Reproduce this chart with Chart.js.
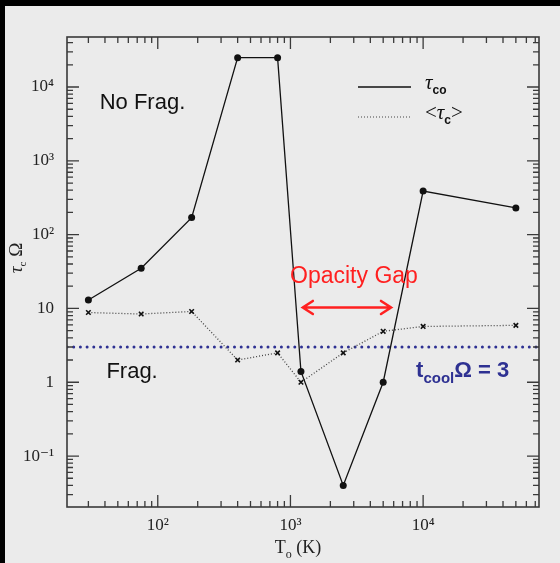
<!DOCTYPE html>
<html lang="en">
<head>
<meta charset="UTF-8">
<title>Cooling time vs temperature</title>
<script src="https://cdn.jsdelivr.net/npm/chart.js"></script>
<style>
  html, body { margin: 0; padding: 0; background: #000; }
  .panel { position: absolute; left: 5px; top: 6px; width: 555px; height: 557px; background: #ebebeb; }
  canvas { display: block; }
</style>
</head>
<body>
<div class="panel"><canvas id="fragChart" width="555" height="557"></canvas></div>
<script>
// run temperatures (K) and measured cooling times
const temps = [30, 75, 180, 400, 800, 1200, 2500, 5000, 10000, 50000];
const tauCo = [13, 35, 170, 25000, 25000, 1.4, 0.04, 1, 390, 230];
const tauMean = [8.8, 8.4, 9.1, 2.0, 2.5, 1.0, 2.5, 4.9, 5.7, 5.9];
const coolLimit = 3;

const xRange = [20.7, 74700];
const yRange = [0.0204, 47600];
const xMajor = [100, 1000, 10000];
const xMajorLabels = ['10²', '10³', '10⁴'];
const yMajor = [0.1, 1, 10, 100, 1000, 10000];
const yMajorLabels = ['10⁻¹', '1', '10', '10²', '10³', '10⁴'];

const SERIF = '"Liberation Serif", "DejaVu Serif", serif';
const SANS = '"Liberation Sans", Arial, sans-serif';
const ink = '#222';

// text with sub/superscript pieces
function drawRuns(ctx, runs, x, y, align) {
  let w = 0;
  runs.forEach(r => { ctx.font = r.font; r.w = ctx.measureText(r.t).width; w += r.w; });
  let cx = align === 'center' ? x - w / 2 : x;
  ctx.textAlign = 'left';
  ctx.textBaseline = 'alphabetic';
  runs.forEach(r => { ctx.font = r.font; ctx.fillText(r.t, cx, y + (r.dy || 0)); cx += r.w; });
}

const overlay = {
  id: 'overlay',
  afterDraw(chart) {
    const { ctx, chartArea: a, scales: { x, y } } = chart;
    ctx.save();

    // frame
    ctx.strokeStyle = '#3a3a3a';
    ctx.lineWidth = 1.6;
    ctx.strokeRect(a.left, a.top, a.right - a.left, a.bottom - a.top);

    // inward ticks on all four sides
    ctx.lineWidth = 1.3;
    ctx.beginPath();
    for (let e = 1; e <= 4; e++) {
      for (let m = 1; m <= 9; m++) {
        const v = m * Math.pow(10, e);
        if (v < x.min || v > x.max) continue;
        const px = x.getPixelForValue(v);
        const len = m === 1 ? 12 : 6;
        ctx.moveTo(px, a.bottom); ctx.lineTo(px, a.bottom - len);
        ctx.moveTo(px, a.top); ctx.lineTo(px, a.top + len);
      }
    }
    for (let e = -2; e <= 4; e++) {
      for (let m = 1; m <= 9; m++) {
        const v = m * Math.pow(10, e);
        if (v < y.min || v > y.max) continue;
        const py = y.getPixelForValue(v);
        const len = m === 1 ? 12 : 6;
        ctx.moveTo(a.left, py); ctx.lineTo(a.left + len, py);
        ctx.moveTo(a.right, py); ctx.lineTo(a.right - len, py);
      }
    }
    ctx.stroke();

    // axis titles
    ctx.fillStyle = ink;
    drawRuns(ctx, [
      { t: 'T', font: '18px ' + SERIF },
      { t: 'o', font: '12px ' + SERIF, dy: 5 },
      { t: ' (K)', font: '18px ' + SERIF }
    ], (a.left + a.right) / 2 - 5, a.bottom + 46, 'center');

    ctx.save();
    ctx.translate(a.left - 50, a.top + 221);
    ctx.rotate(-Math.PI / 2);
    drawRuns(ctx, [
      { t: 'τ', font: 'italic 19px ' + SERIF },
      { t: 'c', font: '11px ' + SERIF, dy: 4 },
      { t: ' Ω', font: '19px ' + SERIF }
    ], 0, 5, 'center');
    ctx.restore();

    // legend
    const lx0 = a.left + 291, lx1 = a.left + 344, lt = a.left + 358;
    const r1 = a.top + 50, r2 = a.top + 80;
    ctx.strokeStyle = '#111';
    ctx.lineWidth = 1.3;
    ctx.beginPath(); ctx.moveTo(lx0, r1); ctx.lineTo(lx1, r1); ctx.stroke();
    ctx.strokeStyle = '#444';
    ctx.lineWidth = 1.2;
    ctx.setLineDash([1, 2]);
    ctx.beginPath(); ctx.moveTo(lx0, r2); ctx.lineTo(lx1, r2); ctx.stroke();
    ctx.setLineDash([]);
    ctx.fillStyle = '#111';
    drawRuns(ctx, [
      { t: 'τ', font: 'italic 21px ' + SERIF },
      { t: 'co', font: 'bold 12px ' + SANS, dy: 5 }
    ], lt, r1 + 1.5, 'left');
    drawRuns(ctx, [
      { t: '<', font: '21px ' + SERIF },
      { t: 'τ', font: 'italic 21px ' + SERIF },
      { t: 'c', font: 'bold 12px ' + SANS, dy: 5 },
      { t: '>', font: '21px ' + SERIF }
    ], lt, r2 + 1.5, 'left');

    // regime labels
    ctx.fillStyle = '#111';
    drawRuns(ctx, [{ t: 'No Frag.', font: '22px ' + SANS }],
      x.getPixelForValue(36.5), y.getPixelForValue(4990), 'left');
    drawRuns(ctx, [{ t: 'Frag.', font: '22px ' + SANS }],
      x.getPixelForValue(41), y.getPixelForValue(1.14), 'left');

    // opacity gap marker
    const red = '#ff2020';
    ctx.fillStyle = red;
    drawRuns(ctx, [{ t: 'Opacity Gap', font: '23px ' + SANS }],
      x.getPixelForValue(3010), y.getPixelForValue(21.9), 'center');
    const ax0 = x.getPixelForValue(1240), ax1 = x.getPixelForValue(5730);
    const ay = y.getPixelForValue(10.3);
    ctx.strokeStyle = red;
    ctx.lineWidth = 2.6;
    ctx.lineCap = 'round';
    ctx.beginPath();
    ctx.moveTo(ax0, ay); ctx.lineTo(ax1, ay);
    ctx.moveTo(ax0 + 10, ay - 6.5); ctx.lineTo(ax0, ay); ctx.lineTo(ax0 + 10, ay + 6.5);
    ctx.moveTo(ax1 - 10, ay - 6.5); ctx.lineTo(ax1, ay); ctx.lineTo(ax1 - 10, ay + 6.5);
    ctx.stroke();

    // cooling threshold label
    ctx.fillStyle = '#2e3192';
    drawRuns(ctx, [
      { t: 't', font: 'bold 22px ' + SANS },
      { t: 'cool', font: 'bold 15px ' + SANS, dy: 6 },
      { t: 'Ω = 3', font: 'bold 22px ' + SANS }
    ], x.getPixelForValue(8850), y.getPixelForValue(1.16), 'left');

    ctx.restore();
  }
};

const ctx = document.getElementById('fragChart').getContext('2d');
new Chart(ctx, {
  type: 'line',
  data: {
    datasets: [
      {
        label: 'τco',
        data: temps.map((t, i) => ({ x: t, y: tauCo[i] })),
        borderColor: '#111',
        backgroundColor: '#111',
        borderWidth: 1.3,
        pointRadius: 3.5,
        pointBorderWidth: 0,
        tension: 0
      },
      {
        label: '<τc>',
        data: temps.map((t, i) => ({ x: t, y: tauMean[i] })),
        borderColor: '#444',
        borderWidth: 1.3,
        borderDash: [1, 2],
        pointStyle: 'crossRot',
        pointRadius: 3.2,
        pointBorderWidth: 1.6,
        pointBorderColor: '#111',
        tension: 0
      },
      {
        label: 'tcool Ω = 3',
        data: xRange.map(t => ({ x: t, y: coolLimit })),
        borderColor: '#2e3192',
        borderWidth: 3,
        borderDash: [0, 6.7],
        borderCapStyle: 'round',
        pointRadius: 0,
        tension: 0
      }
    ]
  },
  options: {
    responsive: false,
    animation: false,
    devicePixelRatio: 1,
    layout: { padding: { left: 0, top: 31, right: 21, bottom: 0 } },
    plugins: { legend: { display: false }, tooltip: { enabled: false } },
    scales: {
      x: {
        type: 'logarithmic',
        min: xRange[0],
        max: xRange[1],
        grid: { display: false, drawTicks: false },
        border: { display: false },
        ticks: {
          font: { family: SERIF, size: 17 },
          color: ink,
          padding: 8,
          maxRotation: 0,
          autoSkip: false,
          callback: v => xMajorLabels[xMajor.indexOf(v)] || ''
        },
        afterBuildTicks: s => { s.ticks = xMajor.map(v => ({ value: v })); },
        afterFit: s => { s.height = 56; }
      },
      y: {
        type: 'logarithmic',
        min: yRange[0],
        max: yRange[1],
        grid: { display: false, drawTicks: false },
        border: { display: false },
        ticks: {
          font: { family: SERIF, size: 17 },
          color: ink,
          padding: 13,
          autoSkip: false,
          callback: v => yMajorLabels[yMajor.indexOf(v)] || ''
        },
        afterBuildTicks: s => { s.ticks = yMajor.map(v => ({ value: v })); },
        afterFit: s => { s.width = 62; }
      }
    }
  },
  plugins: [overlay]
});
</script>
</body>
</html>
